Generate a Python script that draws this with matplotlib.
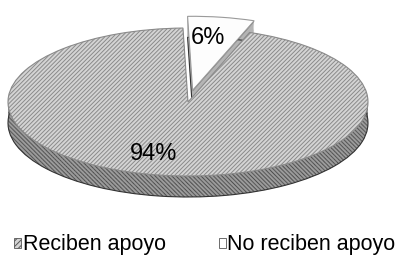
import numpy as np
import matplotlib.pyplot as plt
import matplotlib.patches as mpatches

plt.rcParams['font.family'] = ['Liberation Sans', 'DejaVu Sans']
plt.rcParams['hatch.linewidth'] = 0.7

labels = ['Reciben apoyo', 'No reciben apoyo']
values = [94, 6]
explode = [0, 0.16]

top_faces = ['#d4d4d4', '#fdfdfd']
side_faces = ['#9c9c9c', '#b4b4b4']

# small slice sits just right of 12 o'clock
start = 70

fig = plt.figure(figsize=(4.01, 2.56), dpi=100)
ax = fig.add_axes([0, 0, 1, 1])

# 3d side: stack of darker copies shifted down
depth = 21 / 74
n_layers = 18
for k in range(n_layers, 0, -1):
    dy = depth * k / n_layers
    w, _ = ax.pie(values, explode=explode, startangle=start, counterclock=False,
                  colors=side_faces, center=(0, -dy), radius=1,
                  wedgeprops=dict(linewidth=0, hatch='\\\\\\\\\\\\\\\\', edgecolor='#4a4a4a'))
    w[1].set_hatch(None)
    w[1].set_facecolor('#b4b4b4' if k > 1 else '#7a7a7a')

# outline under the side
ax.pie(values, explode=explode, startangle=start, counterclock=False,
       colors=['none', 'none'], center=(0, -depth), radius=1,
       wedgeprops=dict(linewidth=0.8, edgecolor='#333333'))

# top face
wedges, texts, autotexts = ax.pie(values, explode=explode, startangle=start,
                                  counterclock=False, colors=top_faces,
                                  autopct='%1.0f%%', pctdistance=0.62,
                                  textprops=dict(fontsize=17, color='black'),
                                  wedgeprops=dict(linewidth=0.8))
wedges[0].set_hatch('////////')
wedges[0].set_edgecolor('#8a8a8a')
wedges[1].set_edgecolor('#9a9a9a')
autotexts[0].set_position((-0.19, -0.7))
autotexts[1].set_position((0.11, 0.86))

ax.set_aspect('auto')
ax.set_xlim(-188 / 180, 213 / 180)
ax.set_ylim(-154 / 74, 102 / 74)
ax.axis('off')

handles = [mpatches.Patch(facecolor='#d4d4d4', edgecolor='#555555', hatch='//////', linewidth=0.6),
           mpatches.Patch(facecolor='white', edgecolor='#555555', linewidth=0.6)]
fig.legend(handles, labels, loc='lower left', bbox_to_anchor=(14 / 401, 0.002), ncol=2,
           frameon=False, fontsize=15.5, handlelength=0.33, handleheight=0.33,
           handletextpad=0.08, columnspacing=2.45, borderpad=0, borderaxespad=0)

fig.savefig('out.png', dpi=100)
